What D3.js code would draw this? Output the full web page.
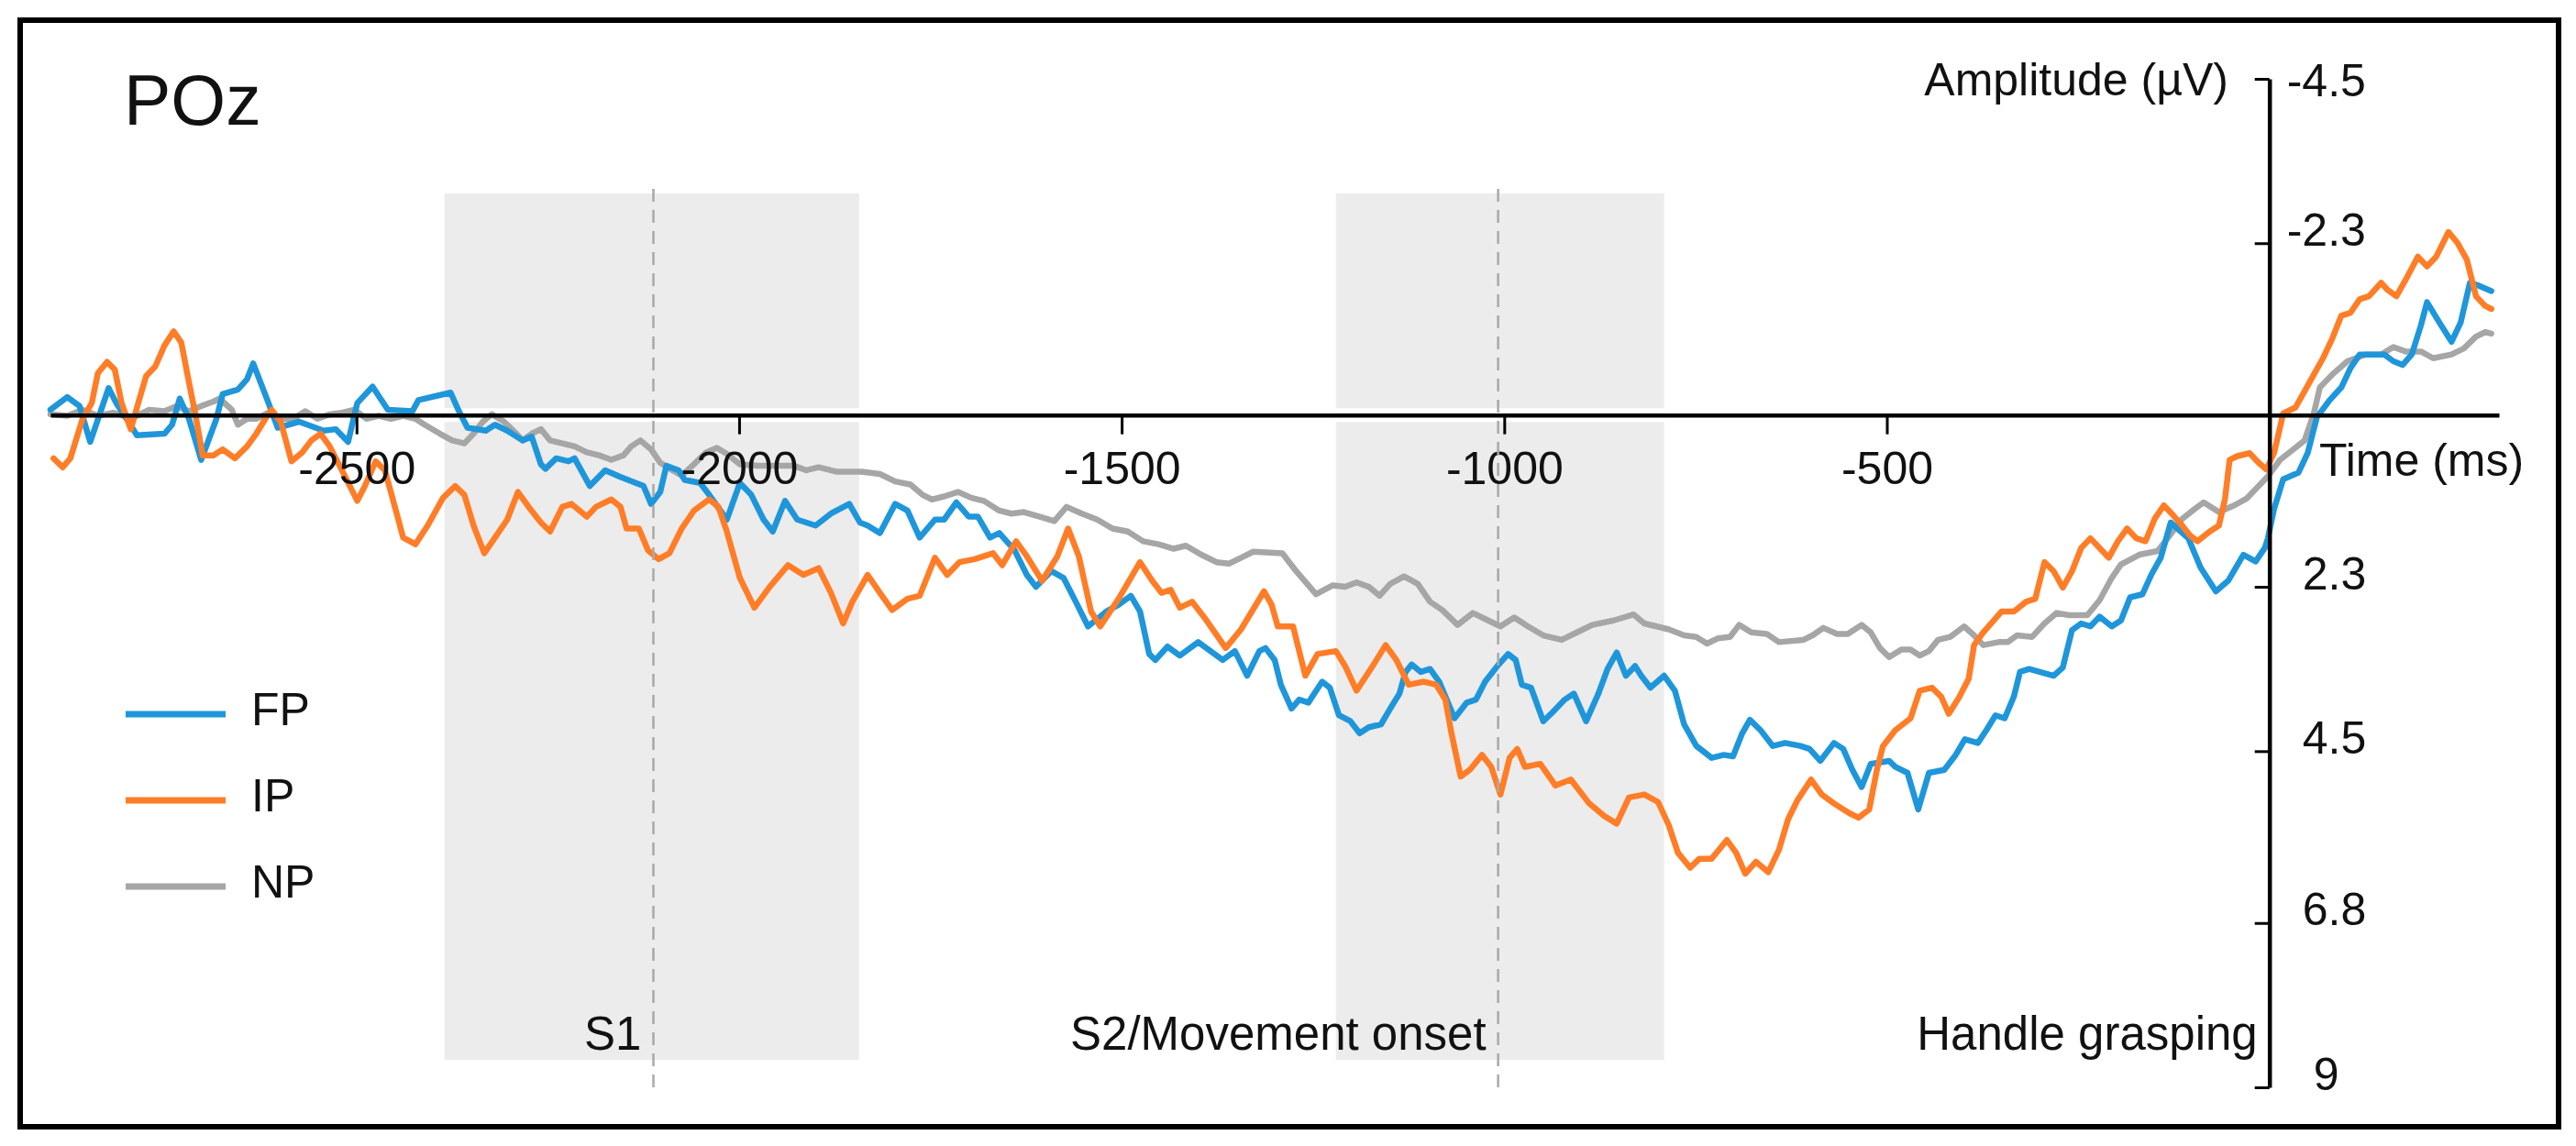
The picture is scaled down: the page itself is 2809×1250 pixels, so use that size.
<!DOCTYPE html>
<html><head><meta charset="utf-8">
<script src="https://cdn.jsdelivr.net/npm/d3@7"></script>
<style>
html,body{margin:0;padding:0;background:#fff;}
svg{display:block;}
text{font-family:"Liberation Sans", Arial, sans-serif;fill:#111;}
</style>
</head><body>
<svg id="chart" width="2809" height="1250"></svg>
<script>
// ---------------- data ----------------
const seriesNames = ["FP", "IP", "NP"];
const xTickValues = [-2500, -2000, -1500, -1000, -500];
const yTickValues = [-4.5, -2.3, 2.3, 4.5, 6.8, 9];
const yTickLabels = ["-4.5", "-2.3", "2.3", "4.5", "6.8", "9"];
const eventTimes = [-2112, -1008, 0];
const eventLabels = ["S1", "S2/Movement onset", "Handle grasping"];
const windowStart = [-2385, -1220];
const windowEnd = [-1843, -791];

const fpTime = [-2900,-2878,-2862,-2848,-2824,-2814,-2798,-2787,-2751,-2741,-2731,-2719,-2703,-2683,-2675,-2655,-2643,-2635,-2615,-2603,-2575,-2543,-2527,-2511,-2499,-2479,-2459,-2427,-2419,-2377,-2367,-2355,-2331,-2319,-2303,-2283,-2271,-2259,-2253,-2239,-2223,-2215,-2195,-2175,-2155,-2135,-2125,-2115,-2103,-2095,-2079,-2071,-2051,-2039,-2016,-1999,-1984,-1968,-1956,-1940,-1924,-1900,-1880,-1856,-1842,-1832,-1816,-1796,-1780,-1764,-1744,-1732,-1716,-1700,-1688,-1672,-1660,-1640,-1624,-1612,-1592,-1576,-1560,-1544,-1520,-1504,-1488,-1476,-1464,-1456,-1440,-1424,-1400,-1384,-1368,-1352,-1336,-1320,-1312,-1300,-1292,-1278,-1268,-1256,-1238,-1228,-1216,-1201,-1189,-1177,-1161,-1149,-1137,-1129,-1121,-1109,-1097,-1085,-1065,-1049,-1037,-1025,-1009,-995,-985,-977,-965,-949,-937,-921,-909,-893,-877,-865,-853,-841,-829,-821,-809,-791,-777,-765,-749,-729,-713,-701,-689,-679,-665,-649,-633,-613,-601,-587,-569,-557,-545,-533,-521,-497,-489,-473,-459,-445,-425,-410,-398,-381,-370,-358,-346,-334,-326,-314,-282,-270,-258,-246,-234,-222,-206,-194,-182,-166,-154,-142,-129,-106,-90,-70,-54,-34,-18,-6,-2,6,18,38,50,62,78,94,106,118,150,162,174,186,198,206,222,238,250,262,274,290];
const fpAmp = [-0.07,-0.24,-0.12,0.36,-0.36,-0.16,0.09,0.27,0.25,0.13,-0.22,0.05,0.60,0.05,-0.28,-0.34,-0.48,-0.69,-0.16,0.17,0.09,0.21,0.19,0.36,-0.16,-0.38,-0.07,-0.05,-0.20,-0.30,-0.07,0.17,0.21,0.13,0.21,0.34,0.29,0.66,0.72,0.58,0.62,0.58,0.95,0.74,0.83,0.91,0.95,1.19,1.03,0.68,0.74,0.87,0.91,1.07,1.40,0.91,1.07,1.40,1.56,1.15,1.40,1.48,1.32,1.19,1.44,1.48,1.58,1.19,1.28,1.64,1.40,1.40,1.17,1.36,1.36,1.64,1.58,1.81,2.14,2.30,2.09,2.18,2.50,2.83,2.63,2.54,2.42,2.63,3.20,3.28,3.10,3.22,3.04,3.16,3.28,3.16,3.49,3.16,3.12,3.28,3.61,3.93,3.81,3.85,3.57,3.65,4.02,4.10,4.26,4.18,4.14,3.93,3.73,3.44,3.34,3.44,3.40,3.57,4.06,3.85,3.81,3.57,3.36,3.20,3.28,3.61,3.65,4.10,3.98,3.81,3.73,4.10,3.73,3.40,3.18,3.49,3.36,3.49,3.65,3.49,3.69,4.14,4.43,4.59,4.55,4.57,4.26,4.08,4.22,4.43,4.39,4.43,4.47,4.63,4.39,4.47,4.75,4.98,4.67,4.63,4.71,4.79,5.28,4.79,4.75,4.55,4.34,4.39,4.22,4.02,4.06,3.77,3.44,3.40,3.49,3.38,2.88,2.79,2.83,2.70,2.83,2.75,2.44,2.40,2.13,1.91,1.44,1.65,2.04,2.36,2.22,1.87,1.96,1.78,1.65,1.26,0.86,0.77,0.51,0.03,-0.19,-0.37,-0.63,-0.81,-0.81,-0.72,-0.67,-0.81,-1.20,-1.51,-1.24,-0.98,-1.24,-1.77,-1.73,-1.66];

const ipTime = [-2896,-2884,-2874,-2858,-2846,-2838,-2826,-2816,-2807,-2795,-2783,-2775,-2763,-2751,-2739,-2729,-2719,-2711,-2701,-2687,-2675,-2659,-2643,-2631,-2619,-2611,-2599,-2585,-2571,-2559,-2547,-2535,-2519,-2499,-2489,-2475,-2463,-2453,-2439,-2423,-2407,-2387,-2371,-2359,-2347,-2333,-2319,-2303,-2289,-2275,-2259,-2247,-2231,-2219,-2199,-2187,-2167,-2155,-2147,-2131,-2119,-2105,-2091,-2075,-2059,-2039,-2027,-2016,-1999,-1980,-1960,-1936,-1916,-1896,-1880,-1864,-1852,-1832,-1816,-1800,-1780,-1764,-1744,-1728,-1712,-1692,-1668,-1656,-1638,-1624,-1604,-1584,-1570,-1556,-1540,-1528,-1504,-1476,-1460,-1448,-1436,-1424,-1408,-1392,-1364,-1344,-1314,-1304,-1296,-1276,-1260,-1244,-1220,-1208,-1193,-1172,-1155,-1141,-1125,-1105,-1089,-1077,-1069,-1057,-1045,-1029,-1017,-1005,-993,-983,-973,-953,-933,-913,-889,-869,-853,-837,-817,-799,-785,-773,-757,-745,-729,-709,-697,-685,-671,-655,-641,-629,-617,-599,-585,-569,-549,-537,-523,-513,-505,-489,-469,-457,-441,-429,-419,-405,-393,-386,-374,-350,-334,-318,-306,-294,-282,-270,-258,-246,-234,-222,-210,-198,-186,-174,-162,-150,-138,-126,-114,-104,-94,-78,-66,-58,-52,-42,-26,-14,-4,6,14,18,34,46,58,70,82,94,106,118,130,146,154,166,178,194,206,218,234,246,258,270,282,290];
const ipAmp = [0.58,0.70,0.58,0.05,-0.16,-0.56,-0.71,-0.61,-0.16,0.19,-0.24,-0.52,-0.65,-0.93,-1.12,-0.97,-0.44,-0.03,0.54,0.54,0.46,0.58,0.42,0.25,0.05,-0.07,0.09,0.62,0.50,0.34,0.25,0.42,0.74,1.15,0.95,0.62,0.74,1.11,1.64,1.73,1.48,1.11,0.95,1.07,1.48,1.85,1.64,1.40,1.03,1.23,1.44,1.56,1.23,1.19,1.36,1.23,1.13,1.23,1.52,1.52,1.81,1.93,1.85,1.52,1.28,1.13,1.23,1.56,2.18,2.58,2.30,2.01,2.14,2.05,2.38,2.79,2.50,2.14,2.38,2.61,2.46,2.42,1.91,2.14,1.97,1.93,1.85,2.01,1.69,1.89,2.22,1.89,1.52,1.89,2.63,2.83,2.46,1.97,2.22,2.38,2.34,2.58,2.50,2.71,3.12,2.87,2.36,2.54,2.83,2.83,3.49,3.20,3.16,3.36,3.69,3.36,3.08,3.28,3.61,3.57,3.61,3.81,4.26,4.84,4.75,4.55,4.71,5.08,4.59,4.47,4.71,4.67,4.96,4.88,5.20,5.37,5.47,5.12,5.08,5.18,5.49,5.86,6.06,5.94,5.94,5.69,5.86,6.14,5.98,6.12,5.82,5.41,5.16,4.88,5.08,5.20,5.33,5.39,5.28,4.75,4.43,4.22,4.06,3.69,3.65,3.77,4.00,3.77,3.53,3.08,2.91,2.63,2.63,2.50,2.46,1.97,2.09,2.31,2.09,1.78,1.65,1.78,1.91,1.69,1.52,1.65,1.69,1.39,1.21,1.34,1.48,1.61,1.69,1.56,1.48,1.12,0.60,0.55,0.51,0.64,0.73,0.51,0.16,-0.02,-0.10,-0.32,-0.54,-0.76,-1.02,-1.33,-1.37,-1.55,-1.59,-1.77,-1.68,-1.59,-1.81,-2.12,-1.99,-2.12,-2.45,-2.30,-2.08,-1.59,-1.46,-1.42];

const npTime = [-2900,-2878,-2858,-2838,-2818,-2798,-2787,-2771,-2751,-2735,-2719,-2703,-2687,-2679,-2663,-2655,-2643,-2631,-2615,-2599,-2583,-2567,-2551,-2535,-2519,-2503,-2487,-2471,-2455,-2439,-2423,-2411,-2391,-2375,-2359,-2347,-2335,-2323,-2307,-2291,-2283,-2271,-2259,-2247,-2231,-2215,-2199,-2183,-2167,-2151,-2141,-2129,-2115,-2103,-2087,-2075,-2059,-2043,-2029,-2016,-1999,-1975,-1951,-1928,-1912,-1896,-1872,-1840,-1816,-1796,-1776,-1760,-1748,-1732,-1714,-1696,-1680,-1660,-1644,-1628,-1608,-1588,-1572,-1552,-1532,-1512,-1492,-1472,-1452,-1432,-1416,-1396,-1376,-1360,-1344,-1328,-1290,-1272,-1246,-1224,-1208,-1193,-1177,-1163,-1149,-1131,-1113,-1097,-1081,-1061,-1041,-1021,-1005,-987,-969,-949,-925,-905,-885,-857,-831,-817,-785,-765,-749,-735,-721,-705,-693,-677,-657,-641,-609,-597,-583,-565,-551,-533,-521,-509,-497,-481,-469,-457,-445,-433,-417,-399,-386,-374,-354,-342,-330,-310,-294,-278,-262,-238,-222,-206,-194,-170,-146,-130,-114,-98,-86,-66,-46,-30,-14,-2,14,30,46,58,66,82,102,126,146,162,178,198,214,238,254,270,282,290];
const npAmp = [-0.01,0.01,-0.07,0.01,-0.03,0.03,0.01,-0.07,-0.05,-0.12,-0.05,-0.12,-0.18,-0.22,-0.07,0.13,0.05,0.05,-0.03,0.05,0.05,-0.05,0.05,-0.01,-0.03,-0.07,0.05,0.01,0.05,0.01,0.05,0.13,0.25,0.34,0.38,0.25,0.09,-0.01,0.09,0.25,0.34,0.25,0.19,0.34,0.38,0.42,0.50,0.54,0.60,0.54,0.42,0.34,0.46,0.64,0.74,0.81,0.66,0.50,0.44,0.52,0.66,0.68,0.68,0.68,0.74,0.70,0.76,0.76,0.79,0.89,0.93,1.07,1.13,1.09,1.03,1.11,1.15,1.28,1.32,1.30,1.36,1.42,1.23,1.32,1.40,1.52,1.56,1.69,1.73,1.79,1.75,1.87,1.97,1.99,1.91,1.83,1.85,2.09,2.40,2.28,2.30,2.24,2.30,2.42,2.26,2.16,2.26,2.50,2.61,2.81,2.65,2.75,2.83,2.71,2.83,2.95,3.01,2.91,2.81,2.75,2.67,2.79,2.87,2.95,2.97,3.06,2.99,2.97,2.81,2.91,2.93,3.04,3.01,2.95,2.85,2.93,2.93,2.81,2.91,3.12,3.24,3.14,3.14,3.22,3.16,3.01,2.97,2.83,2.95,3.08,3.04,3.04,2.95,2.97,2.79,2.65,2.68,2.68,2.48,2.18,2.00,1.87,1.82,1.61,1.39,1.26,1.17,1.30,1.21,1.12,0.95,0.82,0.60,0.47,0.34,-0.02,-0.37,-0.54,-0.72,-0.81,-0.81,-0.91,-0.85,-0.85,-0.76,-0.81,-0.89,-1.05,-1.11,-1.09];

// ---------------- layout ----------------
const W = 2809, H = 1250;
const FONT = 50;
const colors = {FP: "#1f96da", IP: "#ff7d27", NP: "#a6a6a6"};

const svg = d3.select("#chart");
const x = d3.scaleLinear().domain([-2900, 300]).range([55, 2725]);
const y = d3.scaleLinear().domain([-4.5, 9]).range([86, 1186]);

// outer frame
svg.append("rect").attr("x", 22).attr("y", 22).attr("width", 2768).attr("height", 1207)
  .attr("fill", "none").attr("stroke", "#000").attr("stroke-width", 6);

// shaded windows
svg.selectAll("rect.win").data(windowStart.map((s, i) => [s, windowEnd[i]])).enter()
  .append("rect").attr("class", "win")
  .attr("x", d => x(d[0])).attr("width", d => x(d[1]) - x(d[0]))
  .attr("y", 211).attr("height", 1156 - 211)
  .attr("fill", "#ececec");

// white halo behind the time axis
svg.append("line").attr("x1", x(-2900)).attr("x2", x(300)).attr("y1", y(0)).attr("y2", y(0))
  .attr("stroke", "#fff").attr("stroke-width", 15);

// data lines
const series = [
  {name: "NP", t: npTime, v: npAmp},
  {name: "FP", t: fpTime, v: fpAmp},
  {name: "IP", t: ipTime, v: ipAmp}
];
const line = d3.line().x(d => x(d[0])).y(d => y(d[1]));
svg.selectAll("path.series").data(series).enter().append("path").attr("class", "series")
  .attr("d", s => line(s.t.map((t, i) => [t, s.v[i]])))
  .attr("fill", "none").attr("stroke", s => colors[s.name])
  .attr("stroke-width", 6.5).attr("stroke-linejoin", "round").attr("stroke-linecap", "round");

// x axis
const xAxis = d3.axisBottom(x).tickValues(xTickValues).tickSize(21).tickSizeOuter(0)
  .tickPadding(19).tickFormat(d => String(d));
const gx = svg.append("g").attr("transform", `translate(0,${y(0)})`).call(xAxis);
gx.attr("font-size", FONT).attr("font-family", '"Liberation Sans", Arial, sans-serif');
gx.select(".domain").attr("stroke", "#000").attr("stroke-width", 4.5);
gx.selectAll(".tick line").attr("stroke", "#000").attr("stroke-width", 3);
gx.selectAll(".tick text").attr("fill", "#111");

// y axis (ticks left, labels right)
const yAxis = d3.axisLeft(y).tickValues(yTickValues).tickSize(16).tickSizeOuter(0)
  .tickFormat((d, i) => yTickLabels[i]);
const gy = svg.append("g").attr("transform", `translate(${x(0)},0)`).call(yAxis);
gy.attr("font-size", FONT).attr("font-family", '"Liberation Sans", Arial, sans-serif');
gy.select(".domain").attr("stroke", "#000").attr("stroke-width", 4.5);
gy.selectAll(".tick line").attr("stroke", "#000").attr("stroke-width", 3);
gy.selectAll(".tick text")
  .attr("text-anchor", "start").attr("fill", "#111")
  .attr("x", (d, i) => yTickLabels[i].startsWith("-") ? 19 : (yTickLabels[i].length === 1 ? 48 : 36))
  .attr("dy", 0)
  .attr("y", (d, i) => i === 0 ? 18 : 2);

// axis titles
svg.append("text").attr("x", 2430).attr("y", 104).attr("text-anchor", "end")
  .attr("font-size", FONT).text("Amplitude (µV)");
svg.append("text").attr("x", 2529).attr("y", 519).attr("text-anchor", "start")
  .attr("font-size", FONT).text("Time (ms)");

// panel title
svg.append("text").attr("x", 135).attr("y", 136).attr("font-size", 77).text("POz");

// legend
const legendOrder = ["FP", "IP", "NP"];
const lg = svg.append("g");
legendOrder.forEach((n, i) => {
  const yy = 779 + i * 94;
  lg.append("line").attr("x1", 137).attr("x2", 246).attr("y1", yy).attr("y2", yy)
    .attr("stroke", colors[n]).attr("stroke-width", 7);
  lg.append("text").attr("x", 274).attr("y", yy + 12).attr("font-size", FONT).text(n);
});

// event labels
svg.selectAll("text.ev").data(eventTimes).enter().append("text").attr("class", "ev")
  .attr("x", d => x(d) - 13).attr("y", 1145).attr("text-anchor", "end")
  .attr("font-size", 51).text((d, i) => eventLabels[i]);

// dashed event lines (S1, S2)
svg.selectAll("line.ev").data(eventTimes.filter(t => t !== 0)).enter().append("line").attr("class", "ev")
  .attr("x1", d => x(d)).attr("x2", d => x(d)).attr("y1", 206).attr("y2", 1192)
  .attr("stroke", "#a9a9a9").attr("stroke-width", 2.5).attr("stroke-dasharray", "14,9");
</script>
</body></html>
